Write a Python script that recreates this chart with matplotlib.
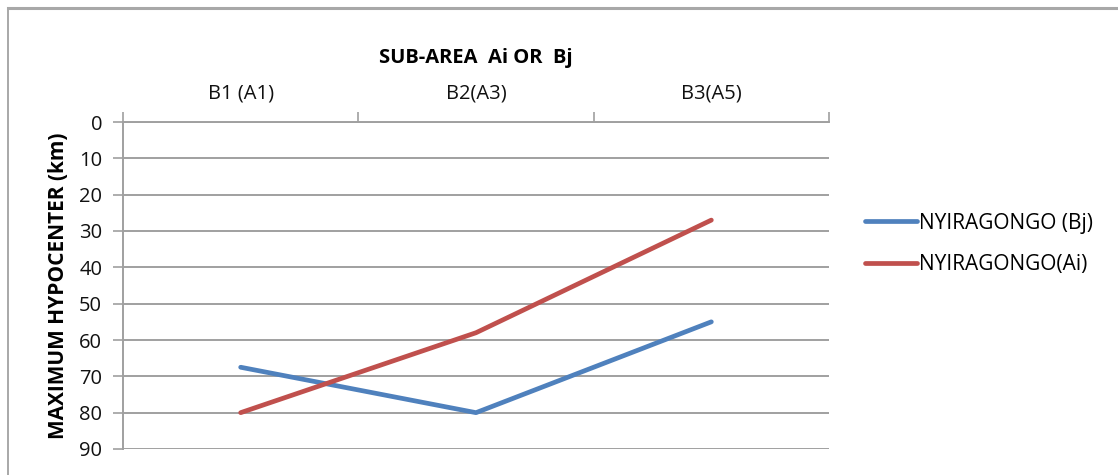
import numpy as np
import matplotlib.pyplot as plt
from matplotlib.lines import Line2D
from matplotlib.ticker import FixedLocator

plt.rcParams['font.family'] = ['Open Sans', 'DejaVu Sans']

# Sub-areas and maximum hypocenter depth (km)
categories = ["B1 (A1)", "B2(A3)", "B3(A5)"]
depth_bj = [67.5, 80, 55]
depth_ai = [80, 58, 27]
series_names = ["NYIRAGONGO (Bj)", "NYIRAGONGO(Ai)"]

W, H = 1118, 475
fig = plt.figure(figsize=(W / 100, H / 100), dpi=100)
ax = fig.add_axes([123 / W, 1 - 449 / H, (829 - 123) / W, (449 - 122) / H])

x = np.arange(len(categories))
ax.plot(x, depth_bj, color="#4F81BD", lw=3.4, solid_capstyle="round", label=series_names[0])
ax.plot(x, depth_ai, color="#C0504D", lw=3.4, solid_capstyle="round", label=series_names[1])

ax.set_xlim(-0.5, len(categories) - 0.5)
ax.set_ylim(90, 0)
ax.set_yticks(np.arange(0, 91, 10))
ax.yaxis.grid(True, color="#A0A0A0", lw=1.4)
ax.set_axisbelow(True)

# category axis on top, ticks between categories
ax.xaxis.tick_top()
ax.xaxis.set_label_position("top")
ax.set_xticks(x)
ax.set_xticklabels(categories, fontsize=14.5, color="#111111")
ax.tick_params(axis="x", which="major", length=0, pad=13)
ax.xaxis.set_minor_locator(FixedLocator(np.arange(-0.5, len(categories), 1.0)))
ax.tick_params(axis="x", which="minor", length=7, width=1.2, color="#A0A0A0", direction="out")
ax.tick_params(axis="y", length=7, width=1.2, color="#A0A0A0", labelsize=14.5, labelcolor="#111111", pad=8)

ax.set_xlabel("SUB-AREA  Ai OR  Bj", fontsize=14.5, fontweight="bold", labelpad=15)
ax.set_ylabel("MAXIMUM HYPOCENTER (km)", fontsize=15, fontweight="bold", labelpad=7)

for side in ("right", "bottom"):
    ax.spines[side].set_visible(False)
for side in ("left", "top"):
    ax.spines[side].set_color("#A0A0A0")
    ax.spines[side].set_linewidth(1.4)

ax.legend(loc="center left", bbox_to_anchor=(1.025, 0.627), frameon=False, fontsize=15,
          handlelength=2.5, handletextpad=0.05, labelspacing=1.0)

# chart frame edges
fig.add_artist(Line2D([8 / W, 1], [1 - 7.5 / H] * 2, color="#A8A8A8", lw=2.2, transform=fig.transFigure))
fig.add_artist(Line2D([8 / W] * 2, [0, 1 - 7.5 / H], color="#A8A8A8", lw=1.4, transform=fig.transFigure))

fig.savefig("out.png", dpi=100)
